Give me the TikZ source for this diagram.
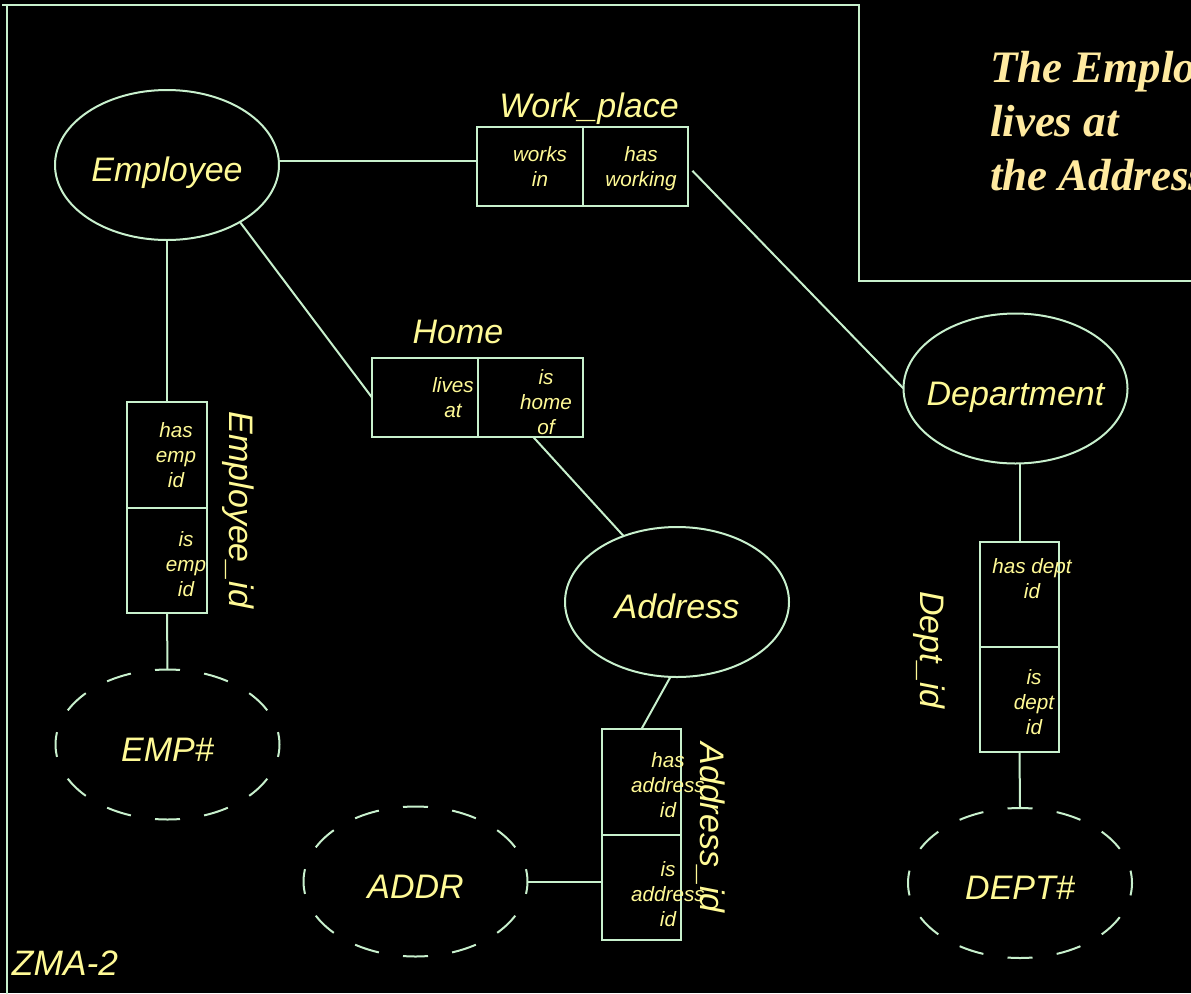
\documentclass[tikz,border=0pt]{standalone}
\usepackage{fontspec}
\newfontfamily\sansfam{Liberation Sans}
\newfontfamily\seriffam{Liberation Serif}
\usetikzlibrary{shapes.geometric}
\definecolor{inkline}{RGB}{200,240,205}
\definecolor{inktext}{RGB}{255,250,150}
\definecolor{inktitle}{RGB}{255,234,160}

\begin{document}
\begin{tikzpicture}[x=0.75pt,y=-0.75pt,
  every node/.style={inner sep=0pt, outer sep=0pt},
  conn/.style={draw=inkline, line width=1.5pt},
  entity/.style={ellipse, draw=inkline, line width=1.5pt,
    minimum width=168pt, minimum height=112.5pt},
  keyattr/.style={entity, dash pattern=on 18.75pt off 18.33pt, dash phase=9.375pt},
  ename/.style={font=\sansfam\itshape\fontsize{25.5}{30}\selectfont, text=inktext,
    text height=24.75pt, text depth=0pt},
  hcell/.style={rectangle, draw=inkline, line width=1.5pt,
    minimum width=79.125pt, minimum height=59.25pt},
  vcell/.style={rectangle, draw=inkline, line width=1.5pt,
    minimum width=59.625pt, minimum height=79.125pt},
  ctext/.style={font=\sansfam\itshape\fontsize{15.5}{18.75}\selectfont, text=inktext, align=center},
  rname/.style={font=\sansfam\itshape\fontsize{25.5}{30}\selectfont, text=inktext},
]
% canvas
\fill[black] (0,0) rectangle (1191,993);
\useasboundingbox (0,0) rectangle (1191,993);

% frame lines
\draw[conn] (2,5) -- (859,5) -- (859,281) -- (1195,281);
\draw[conn] (7,5) -- (7,998);

% heading (runs off the right edge)
\begin{scope}
\clip (0,0) rectangle (1191,993);
\node[anchor=north west, align=left, text=inktitle,
  font=\seriffam\bfseries\itshape\fontsize{33.75}{40.5}\selectfont]
  (heading) at (990,51) {The Employee\\lives at\\the Address};
\end{scope}

% entities
\node[entity, label={[ename]center:Employee}] (employee) at (167,165) {};
\node[entity, label={[ename]center:Department}] (department) at (1015.5,388.5) {};
\node[entity, label={[ename]center:Address}] (address) at (677,602) {};

% key attributes
\node[keyattr, label={[ename]center:EMP\#}] (emp) at (167.5,744.5) {};
\node[keyattr, label={[ename]center:ADDR}] (addr) at (415.5,881.5) {};
\node[keyattr, label={[ename]center:DEPT\#}] (deptkey) at (1020,883) {};

% Work_place relationship
\node[hcell] (wp1) at (530,166.5) {};
\node[hcell] (wp2) at (635.5,166.5) {};
\node[ctext] (wp1t) at (540,167) {works\\in};
\node[ctext] (wp2t) at (641,169) {has\\working};
\node[rname, anchor=base] (wpname) at (589,117) {Work\_place};

% Home relationship
\node[hcell] (home1) at (424.75,397.5) {};
\node[hcell] (home2) at (530.25,397.5) {};
\node[ctext] (home1t) at (453,398) {lives\\at};
\node[ctext] (home2t) at (546,402) {is\\home\\of};
\node[rname, anchor=base] (homename) at (458,343) {Home};

% Employee_id
\node[vcell] (eid1) at (167,454.75) {};
\node[vcell] (eid2) at (167,560.25) {};
\node[ctext] (eid1t) at (176,455.5) {has\\emp\\id};
\node[ctext] (eid2t) at (186,564.5) {is\\emp\\id};
\node[rname, rotate=-90] (eidname) at (238.5,510) {Employee\_id};

% Address_id
\node[vcell] (aid1) at (641.5,781.75) {};
\node[vcell] (aid2) at (641.5,887.25) {};
\node[ctext] (aid1t) at (668,785.5) {has\\address\\id};
\node[ctext] (aid2t) at (668,894.5) {is\\address\\id};
\node[rname, rotate=-90] (aidname) at (711,827.5) {Address\_id};

% Dept_id
\node[vcell] (did1) at (1019.5,594.5) {};
\node[vcell] (did2) at (1019.5,699.5) {};
\node[ctext] (did1t) at (1032,579) {has dept\\id};
\node[ctext] (did2t) at (1034,702.5) {is\\dept\\id};
\node[rname, rotate=-90] (didname) at (929,650) {Dept\_id};

% ZMA tag
\node[rname, anchor=base west, font=\sansfam\itshape\fontsize{26.5}{30}\selectfont]
  (zma) at (12,975) {ZMA-2};

% connectors
\draw[conn] ([yshift=3pt]employee.east) -- ([yshift=3pt]employee.east -| wp1.west);
\draw[conn, shorten <=4.5pt] (wp2.east) -- (department.west);
\draw[conn] (employee.-38) -- (home1.west);
\draw[conn] ([xshift=2.25pt]home2.south) -- (address.129);
\draw[conn] (employee.south) -- (eid1.north);
\draw[conn] (eid2.south) -- (emp.north);
\draw[conn] (address.-95) -- (aid1.north);
\draw[conn] (addr.east) -- (addr.east -| aid2.west);
\draw[conn] (department.south -| did1.north) -- (did1.north);
\draw[conn] (did2.south) -- (deptkey.north);
\end{tikzpicture}
\end{document}
